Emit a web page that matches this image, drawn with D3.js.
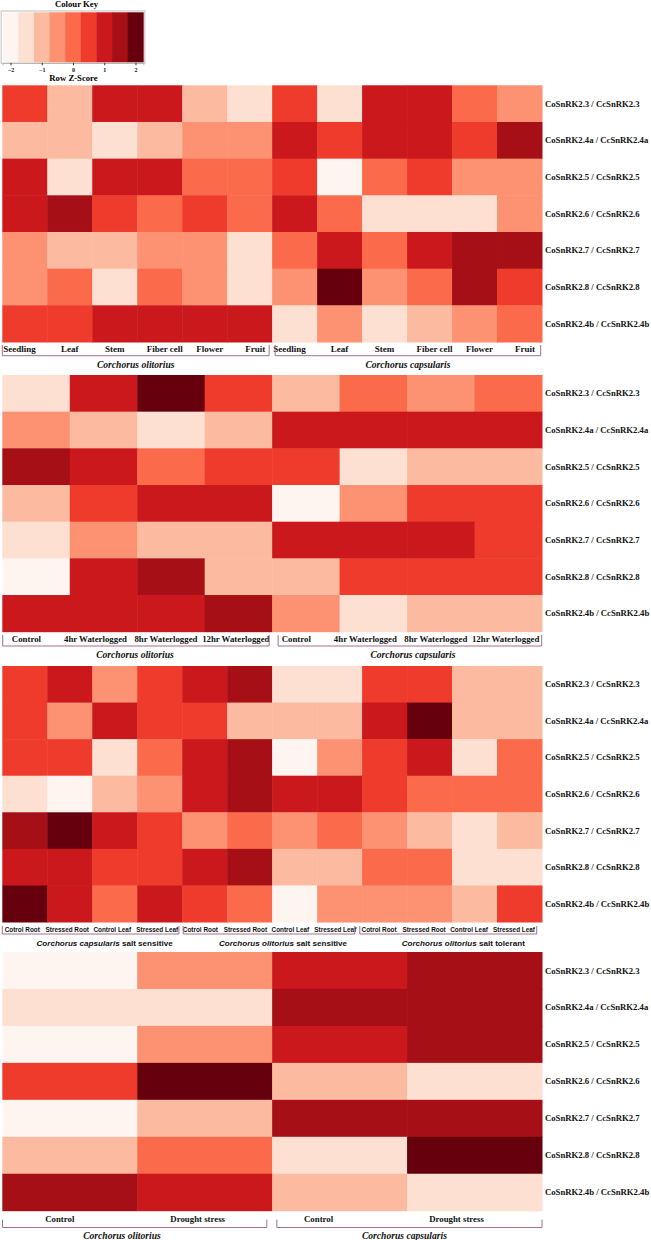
<!DOCTYPE html>
<html><head><meta charset="utf-8">
<script src="https://cdn.jsdelivr.net/npm/d3@7"></script>
<style>body{margin:0;background:#fff} svg{display:block}</style>
</head><body>
<svg id="c" width="651" height="1240"></svg>
<script>
// ---------- DATA ----------
const genes = ["CoSnRK2.3 / CcSnRK2.3","CoSnRK2.4a / CcSnRK2.4a","CoSnRK2.5 / CcSnRK2.5","CoSnRK2.6 / CcSnRK2.6","CoSnRK2.7 / CcSnRK2.7","CoSnRK2.8 / CcSnRK2.8","CoSnRK2.4b / CcSnRK2.4b"];
const reds = ["#fff5f0","#fee0d2","#fcbba1","#fc9272","#fb6a4a","#ef3b2c","#cb181d","#a50f15","#67000d"];
const keyTicks = [-2,-1,0,1,2];
const keyDomain = [-2.25, 2.25];

const tissueCols = ["Seedling","Leaf","Stem","Fiber cell","Flower","Fruit"];
const tissueGroups = [["Corchorus olitorius",""],["Corchorus capsularis",""]];
const tissueValues = [
  [0.5,-1,1,1,-1,-1.5, 0.5,-1.5,1,1,0,-0.5],
  [-1,-1,-1.5,-1,-0.5,-0.5, 1,0.5,1,1,0.5,1.5],
  [1,-1.5,1,1,0,0, 0.5,-2,0,0.5,-0.5,-0.5],
  [1,1.5,0.5,0,0.5,0, 1,0,-1.5,-1.5,-1.5,-0.5],
  [-0.5,-1,-1,-0.5,-0.5,-1.5, 0,1,0,1,1.5,1.5],
  [-0.5,0,-1.5,0,-0.5,-1.5, -0.5,2,-0.5,0,1.5,0.5],
  [0.5,0.5,1,1,1,1, -1.5,-0.5,-1.5,-1,-0.5,0]
];

const waterCols = ["Control","4hr Waterlogged","8hr Waterlogged","12hr Waterlogged"];
const waterGroups = [["Corchorus olitorius",""],["Corchorus capsularis",""]];
const waterValues = [
  [-1.5,1,2,0.5, -1,0,-0.5,0],
  [-0.5,-1,-1.5,-1, 1,1,1,1],
  [1.5,1,0,0.5, 0.5,-1.5,-1,-1],
  [-1,0.5,1,1, -2,-0.5,0.5,0.5],
  [-1.5,-0.5,-1,-1, 1,1,1,0.5],
  [-2,1,1.5,-1, -1,0.5,0.5,0.5],
  [1,1,1,1.5, -0.5,-1.5,-1,-1]
];

const saltCols = ["Cotrol Root","Stressed Root","Control Leaf","Stressed Leaf"];
const saltGroups = [["Corchorus capsularis"," salt sensitive"],["Corchorus olitorius"," salt sensitive"],["Corchorus olitorius"," salt tolerant"]];
const saltValues = [
  [0.5,1,-0.5,0.5, 1,1.5,-1.5,-1.5, 0.5,0.5,-1,-1],
  [0.5,-0.5,1,0.5, 0.5,-1,-1,-1, 1,2,-1,-1],
  [0.5,0.5,-1.5,0, 1,1.5,-2,-0.5, 0.5,1,-1.5,0],
  [-1.5,-2,-1,-0.5, 1,1.5,1,1, 0.5,0,0,0],
  [1.5,2,1,0.5, -0.5,0,-0.5,0, -0.5,-1,-1.5,-1],
  [1,1,0.5,0.5, 1,1.5,-1,-1, 0,0,-1.5,-1.5],
  [2,1,0,1, 0.5,0,-2,-0.5, -0.5,-0.5,-1,0.5]
];

const droughtCols = ["Control","Drought stress"];
const droughtGroups = [["Corchorus olitorius",""],["Corchorus capsularis",""]];
const droughtValues = [
  [-2,-0.5,1,1.5],
  [-1.5,-1.5,1.5,1.5],
  [-2,-0.5,1,1.5],
  [0.5,2,-1,-1.5],
  [-2,-1,1.5,1.5],
  [-1,0,-1.5,2],
  [1.5,1,-1,-1.5]
];

// ---------- LAYOUT ----------
const SERIF = "'Liberation Serif','Times New Roman',serif";
const SANS = "'Liberation Sans',Arial,sans-serif";
const X0 = 2.3, X1 = 542;
const bracketColor = "#a0708c";
const color = d3.scaleQuantize().domain(keyDomain).range(reds);
const svg = d3.select("#c");

const panels = [
  {cols: tissueCols, groups: tissueGroups, values: tissueValues, top: 85.3, bottom: 342,
   labelY: 351.5, labelFont: {f: SERIF, s: 9, w: "bold"},
   labelPos: (c, g) => [["start","middle","middle","middle","middle","end"][c], [1,0,0,5,5,-7][c]],
   bTop: 345, bY: 355.7, pads: [[0,3],[3,1.3]],
   spY: 367.5, spFont: {f: SERIF, s: 9.6, w: "bold"}, spDx: [0,0]},
  {cols: waterCols, groups: waterGroups, values: waterValues, top: 375, bottom: 631.7,
   labelY: 642, labelFont: {f: SERIF, s: 8.8, w: "bold"},
   labelPos: (c, g) => ["middle", [-9.6,-8,-5,-2.6][c]],
   bTop: 635, bY: 646, pads: [[0.4,3],[6,0.3]],
   spY: 657.5, spFont: {f: SERIF, s: 9.6, w: "bold"}, spDx: [-1,3]},
  {cols: saltCols, groups: saltGroups, values: saltValues, top: 666, bottom: 922,
   labelY: 931.5, labelFont: {f: SANS, s: 6.4, w: "bold"},
   labelPos: (c, g) => ["middle", [-2.5,-4.3,-5.5][g]],
   bTop: 926, bY: 934, pads: [[0,3.3],[1,7.3],[-2.3,5.3]],
   spY: 945.5, spFont: {f: SANS, s: 8.1, w: "bold"}, spDx: [14,14,15], sans: true},
  {cols: droughtCols, groups: droughtGroups, values: droughtValues, top: 952, bottom: 1210.7,
   labelY: 1222, labelFont: {f: SERIF, s: 8.8, w: "bold"},
   labelPos: (c, g) => ["middle", [[-10,-7],[-21,-18]][g][c]],
   bTop: 1219.6, bY: 1227.5, pads: [[0.2,5.3],[4.7,0]],
   spY: 1239, spFont: {f: SERIF, s: 9.6, w: "bold"}, spDx: [-12.7,-5]}
];

// ---------- COLOUR KEY ----------
const kx = d3.scaleLinear().domain(keyDomain).range([2.7, 143.3]);
const key = svg.append("g");
key.append("text").attr("x", 76.5).attr("y", 7.2).attr("text-anchor","middle")
  .attr("font-family", SERIF).attr("font-weight","bold").attr("font-size", 8.7).text("Colour Key");
key.append("rect").attr("x", 1.2).attr("y", 11).attr("width", 143.6).attr("height", 52.3)
  .attr("fill","none").attr("stroke","#c8c8c8").attr("stroke-width",1.2);
const binW = (keyDomain[1]-keyDomain[0]) / reds.length;
key.selectAll("rect.bin").data(reds).join("rect").attr("class","bin")
  .attr("x", (d,i) => kx(keyDomain[0] + i*binW))
  .attr("width", (d,i) => kx(keyDomain[0] + (i+1)*binW) - kx(keyDomain[0] + i*binW) + 0.4)
  .attr("y", 12.3).attr("height", 50).attr("fill", d => d);
const kAxis = key.append("g").attr("transform","translate(0,62.8)")
  .call(d3.axisBottom(kx).tickValues(keyTicks).tickSize(2.5).tickFormat(d3.format("d")));
kAxis.select(".domain").attr("stroke","#aaa").attr("stroke-width",0.8);
kAxis.selectAll(".tick line").attr("stroke","#333");
kAxis.selectAll(".tick text").attr("font-family", SERIF).attr("font-weight","bold")
  .attr("font-size", 6).attr("dy", "0.55em").attr("fill","#111");
key.append("text").attr("x", 73.5).attr("y", 80.6).attr("text-anchor","middle")
  .attr("font-family", SERIF).attr("font-weight","bold").attr("font-size", 8.7).text("Row Z-Score");

// ---------- PANELS ----------
panels.forEach(p => {
  const nG = p.groups.length, nC = p.cols.length;
  const allCols = d3.range(nG * nC);
  const x = d3.scaleBand().domain(allCols).range([X0, X1]);
  const y = d3.scaleBand().domain(genes).range([p.top, p.bottom]);
  const g = svg.append("g");

  const cells = [];
  p.values.forEach((row, r) => row.forEach((v, c) => cells.push({gene: genes[r], c, v})));
  g.selectAll("rect").data(cells).join("rect")
    .attr("x", d => x(d.c)).attr("y", d => y(d.gene))
    .attr("width", x.bandwidth() + 0.5).attr("height", y.bandwidth() + 0.5)
    .attr("fill", d => color(d.v));

  // row labels
  g.selectAll("text.gene").data(genes).join("text").attr("class","gene")
    .attr("x", 545).attr("y", d => y(d) + y.bandwidth()/2).attr("dy","0.35em")
    .attr("font-family", SERIF).attr("font-weight","bold").attr("font-size", 8.7)
    .attr("fill","#111").text(d => d);

  // column labels
  const labs = [];
  d3.range(nG).forEach(gi => p.cols.forEach((name, ci) => labs.push({name, gi, ci, idx: gi*nC + ci})));
  g.selectAll("text.col").data(labs).join("text").attr("class","col")
    .each(function(d) {
      const [anchor, dx] = p.labelPos(d.ci, d.gi);
      const bx = anchor === "start" ? x(d.idx) : anchor === "end" ? x(d.idx) + x.bandwidth() : x(d.idx) + x.bandwidth()/2;
      d3.select(this).attr("x", bx + dx).attr("text-anchor", anchor);
    })
    .attr("y", p.labelY).attr("font-family", p.labelFont.f).attr("font-weight", p.labelFont.w)
    .attr("font-size", p.labelFont.s).attr("fill","#111").text(d => d.name);

  // brackets + species labels
  p.groups.forEach((sp, gi) => {
    const gx0 = x(gi*nC) + p.pads[gi][0];
    const gx1 = x(gi*nC + nC - 1) + x.bandwidth() - p.pads[gi][1];
    g.append("path").attr("d", `M${gx0},${p.bTop}V${p.bY}H${gx1}V${p.bTop}`)
      .attr("fill","none").attr("stroke", bracketColor).attr("stroke-width", 1);
    const t = g.append("text").attr("x", (gx0+gx1)/2 + p.spDx[gi]).attr("y", p.spY)
      .attr("text-anchor","middle").attr("font-family", p.spFont.f)
      .attr("font-weight", p.spFont.w).attr("font-size", p.spFont.s).attr("fill","#111");
    t.append("tspan").attr("font-style","italic").text(sp[0]);
    if (sp[1]) t.append("tspan").text(sp[1]);
  });
});
</script>
</body></html>
